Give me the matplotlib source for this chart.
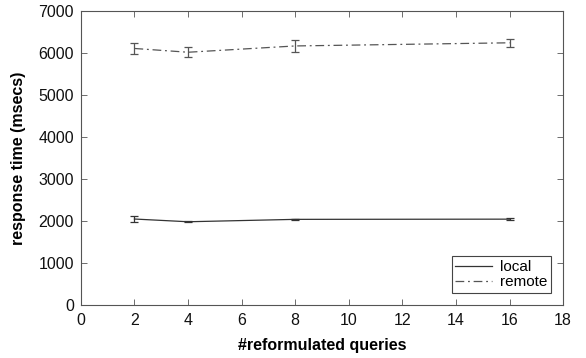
import numpy as np
import matplotlib
matplotlib.use("Agg")
import matplotlib.pyplot as plt
from matplotlib.lines import Line2D

plt.rcParams['font.family'] = ['Liberation Sans', 'DejaVu Sans']

queries = [2, 4, 8, 16]
local_ms = [2048, 1983, 2040, 2045]
local_err = [75, 10, 20, 20]
remote_ms = [6110, 6020, 6170, 6245]
remote_err = [120, 115, 140, 90]

fig = plt.figure(figsize=(5.86, 3.58), dpi=100)
ax = fig.add_axes([0.138, 0.148, 0.823, 0.821])

dashdot = (0, (7, 3, 1.5, 3))
ax.errorbar(queries, local_ms, yerr=local_err, color='#333333', lw=0.9,
            ls='-', capsize=3, elinewidth=0.9, capthick=0.9)
ax.errorbar(queries, remote_ms, yerr=remote_err, color='#555555', lw=0.9,
            ls=dashdot, capsize=3, elinewidth=0.9, capthick=0.9)

ax.set_xlim(0, 18)
ax.set_ylim(0, 7000)
ax.set_xticks(np.arange(0, 19, 2))
ax.set_yticks(np.arange(0, 7001, 1000))
ax.tick_params(direction='in', labelsize=11.5, length=4, width=0.6,
               top=True, right=True, colors='#555555', labelcolor='#111111')
ax.tick_params(axis='x', pad=6)
ax.tick_params(axis='y', pad=5)
for s in ax.spines.values():
    s.set_linewidth(0.8)
    s.set_color('#555555')

ax.set_xlabel('#reformulated queries', fontsize=11.5, fontweight='bold', labelpad=7)
ax.set_ylabel('response time (msecs)', fontsize=11.5, fontweight='bold', labelpad=9)

handles = [Line2D([], [], color='#333333', lw=0.9, ls='-'),
           Line2D([], [], color='#555555', lw=0.9, ls=dashdot)]
leg = ax.legend(handles, ['local', 'remote'], loc='lower right', fontsize=11,
                fancybox=False, edgecolor='#444444', framealpha=1,
                handlelength=2.4, handletextpad=0.5, borderpad=0.25,
                labelspacing=0.05, borderaxespad=0.8)
leg.get_frame().set_linewidth(0.8)

fig.savefig('out.png', dpi=100)
